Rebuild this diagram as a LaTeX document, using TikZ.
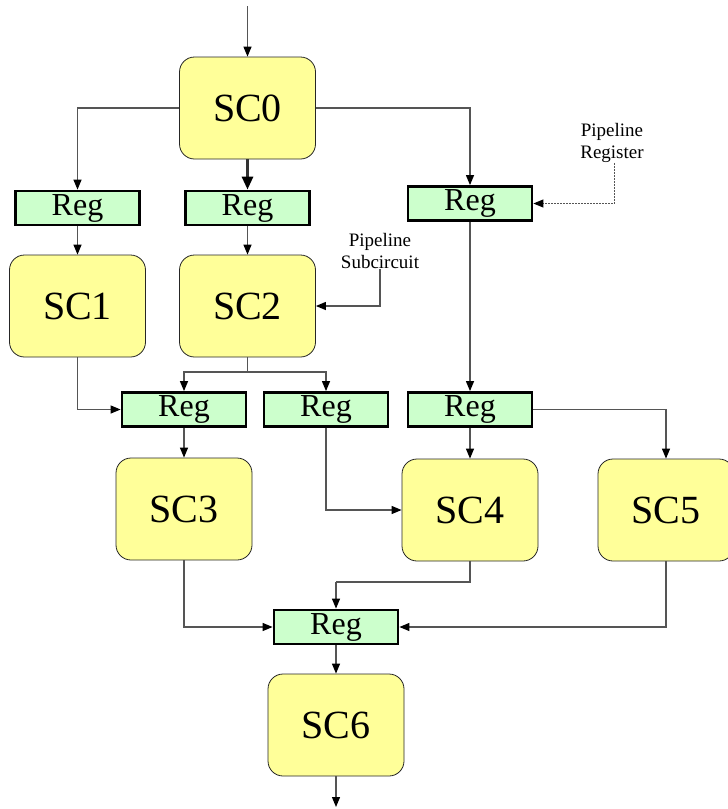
\documentclass[tikz,border=0pt]{standalone}
\usepackage{fontspec}
\setmainfont{Liberation Serif}
\usetikzlibrary{arrows.meta}
\definecolor{scfill}{HTML}{FFFF99}
\definecolor{regfill}{HTML}{CCFFCC}
\definecolor{wire}{HTML}{555555}
\tikzset{
  scbox/.style={draw=black!85, line width=0.8pt, fill=scfill, rounded corners=15pt,
    minimum width=136pt, minimum height=102pt, inner sep=0pt,
    font=\fontsize{40}{44}\selectfont},
  regbox/.style={draw=black, line width=2.8pt, fill=regfill,
    minimum width=124pt, minimum height=34pt, inner sep=0pt,
    font=\fontsize{32}{34}\selectfont},
  note/.style={align=center, inner sep=0pt, font=\fontsize{19}{22}\selectfont},
  wireline/.style={draw=wire, line width=1.2pt,
    -{Triangle[length=10pt,width=8pt,color=black]}},
  thickwire/.style={draw=black!80, line width=2.8pt,
    -{Triangle[length=13pt,width=11pt,color=black]}},
  hintwire/.style={draw=wire, line width=1pt, dash pattern=on 2pt off 1pt,
    -{Triangle[length=10pt,width=8pt,color=black]}}
}
\begin{document}
\begin{tikzpicture}[x=1pt,y=-1pt]
\useasboundingbox (0,0) rectangle (728,809);

% subcircuits
\node[scbox] (SC0) at (247.5,108) {SC0};
\node[scbox] (SC1) at (77.5,306) {SC1};
\node[scbox] (SC2) at (247.5,306) {SC2};
\node[scbox] (SC3) at (184,509) {SC3};
\node[scbox] (SC4) at (470,510) {SC4};
\node[scbox] (SC5) at (666,510) {SC5};
\node[scbox] (SC6) at (336,725) {SC6};

% pipeline registers
\node[regbox] (R1) at (77.5,208) {Reg};
\node[regbox] (R2) at (247.5,208) {Reg};
\node[regbox] (R3) at (470,203.5) {Reg};
\node[regbox] (R4) at (184,409.5) {Reg};
\node[regbox] (R5) at (326,409.5) {Reg};
\node[regbox] (R6) at (470,409.5) {Reg};
\node[regbox] (R7) at (336,627) {Reg};

% annotations
\node[note] (subc) at (380,251) {Pipeline\\Subcircuit};
\node[note] (preg) at (612,143) {Pipeline\\Register};

% free wire ends
\coordinate (in) at (247.5,6);
\coordinate (out) at (336,807);
\coordinate (split) at (247.5,372);
\coordinate (join) at (336,582);

% input and SC0 fan-out
\draw[wireline] (in) -- (SC0.north);
\draw[thickwire] (SC0.south) -- (R2.north);
\draw[wireline] (SC0.west) -| (R1.north);
\draw[wireline] (SC0.east) -| (R3.north);

% second stage
\draw[wireline] (R1.south) -- (SC1.north);
\draw[wireline] (R2.south) -- (SC2.north);
\draw[wireline] (R3.south) -- (R6.north);

% annotation leaders
\draw[wireline] (subc.south) |- (SC2.east);
\draw[hintwire] ([xshift=2pt]preg.south) |- (R3.east);

% SC2 split, SC1 to R4
\draw[draw=wire, line width=1.2pt] (SC2.south) -- (split);
\draw[wireline] (split) -| (R4.north);
\draw[wireline] (split) -| (R5.north);
\draw[wireline] (SC1.south) |- (R4.west);

% third stage
\draw[wireline] (R4.south) -- (SC3.north);
\draw[wireline] (R5.south) |- (SC4.west);
\draw[wireline] (R6.south) -- (SC4.north);
\draw[wireline] (R6.east) -| (SC5.north);

% merge into R7
\draw[wireline] (SC3.south) |- (R7.west);
\draw[draw=wire, line width=1.2pt] (SC4.south) |- (join);
\draw[wireline] (join) -- (R7.north);
\draw[wireline] (SC5.south) |- (R7.east);

% output
\draw[wireline] (R7.south) -- (SC6.north);
\draw[wireline] (SC6.south) -- (out);
\end{tikzpicture}
\end{document}
